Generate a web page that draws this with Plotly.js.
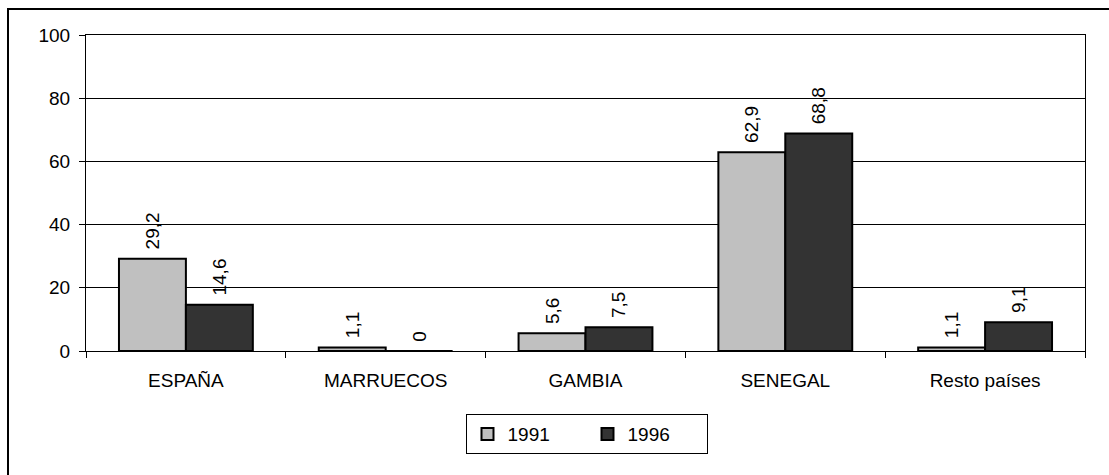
<!DOCTYPE html>
<html>
<head>
<meta charset="utf-8">
<script src="https://cdn.plot.ly/plotly-3.0.1.min.js"></script>
<style>
  html, body { margin: 0; padding: 0; background: #fff; }
  #chart { width: 1109px; height: 475px; }
</style>
</head>
<body>
<div id="chart"></div>
<script>
const categories = ["ESPAÑA", "MARRUECOS", "GAMBIA", "SENEGAL", "Resto países"];
const values1991 = [29.2, 1.1, 5.6, 62.9, 1.1];
const values1996 = [14.6, 0, 7.5, 68.8, 9.1];
const seriesNames = ["1991", "1996"];
const yTicks = [0, 20, 40, 60, 80, 100];

// invisible leading spacer keeps the label a little above the bar, as in the original
const fmt = v => '<span style="color:rgba(0,0,0,0)">-</span>' + String(v).replace('.', ',');
const font = { family: 'Arial, "Liberation Sans", sans-serif', size: 19, color: '#000' };

function barTrace(name, vals, color) {
  return {
    type: 'bar', name: name, x: categories, y: vals,
    marker: { color: color, line: { color: '#000', width: 2 } },
    text: vals.map(fmt), textposition: 'outside', textangle: -90,
    textfont: font, constraintext: 'none', cliponaxis: false,
    hoverinfo: 'skip'
  };
}

const data = [
  barTrace(seriesNames[0], values1991, '#c0c0c0'),
  barTrace(seriesNames[1], values1996, '#333333')
];

const layout = {
  width: 1109, height: 475,
  margin: { l: 86, r: 24, t: 35, b: 124 },
  paper_bgcolor: '#fff', plot_bgcolor: '#fff',
  font: font,
  barmode: 'group', bargap: 0.33, bargroupgap: 0,
  showlegend: true,
  legend: {
    orientation: 'h', x: 0.502, xanchor: 'center', y: -0.2, yanchor: 'top',
    bordercolor: '#000', borderwidth: 1, font: font, itemwidth: 30,
    entrywidth: 75, entrywidthmode: 'pixels',
    traceorder: 'normal'
  },
  xaxis: {
    type: 'category', showline: true, linecolor: '#000', linewidth: 1, mirror: true,
    ticks: 'outside', tickson: 'boundaries', ticklen: 6, tickcolor: '#000',
    showgrid: false, tickfont: font, automargin: false, ticklabelstandoff: 12
  },
  yaxis: {
    range: [0, 100], tickvals: yTicks, ticktext: yTicks.map(String),
    showline: true, linecolor: '#000', linewidth: 1, mirror: true,
    ticks: 'outside', ticklen: 6, tickcolor: '#000',
    showgrid: true, gridcolor: '#000', gridwidth: 1, zeroline: false,
    tickfont: font, automargin: false, ticklabelstandoff: 5
  },
  shapes: [{
    type: 'rect', xref: 'paper', yref: 'paper',
    x0: (8 - 86) / 999, x1: (1130 - 86) / 999,
    y0: (351 - 490) / 316, y1: (351 - 9) / 316,
    line: { color: '#000', width: 2 }, fillcolor: 'rgba(0,0,0,0)', layer: 'below'
  }]
};

Plotly.newPlot('chart', data, layout, { displayModeBar: false, staticPlot: true });
</script>
</body>
</html>
